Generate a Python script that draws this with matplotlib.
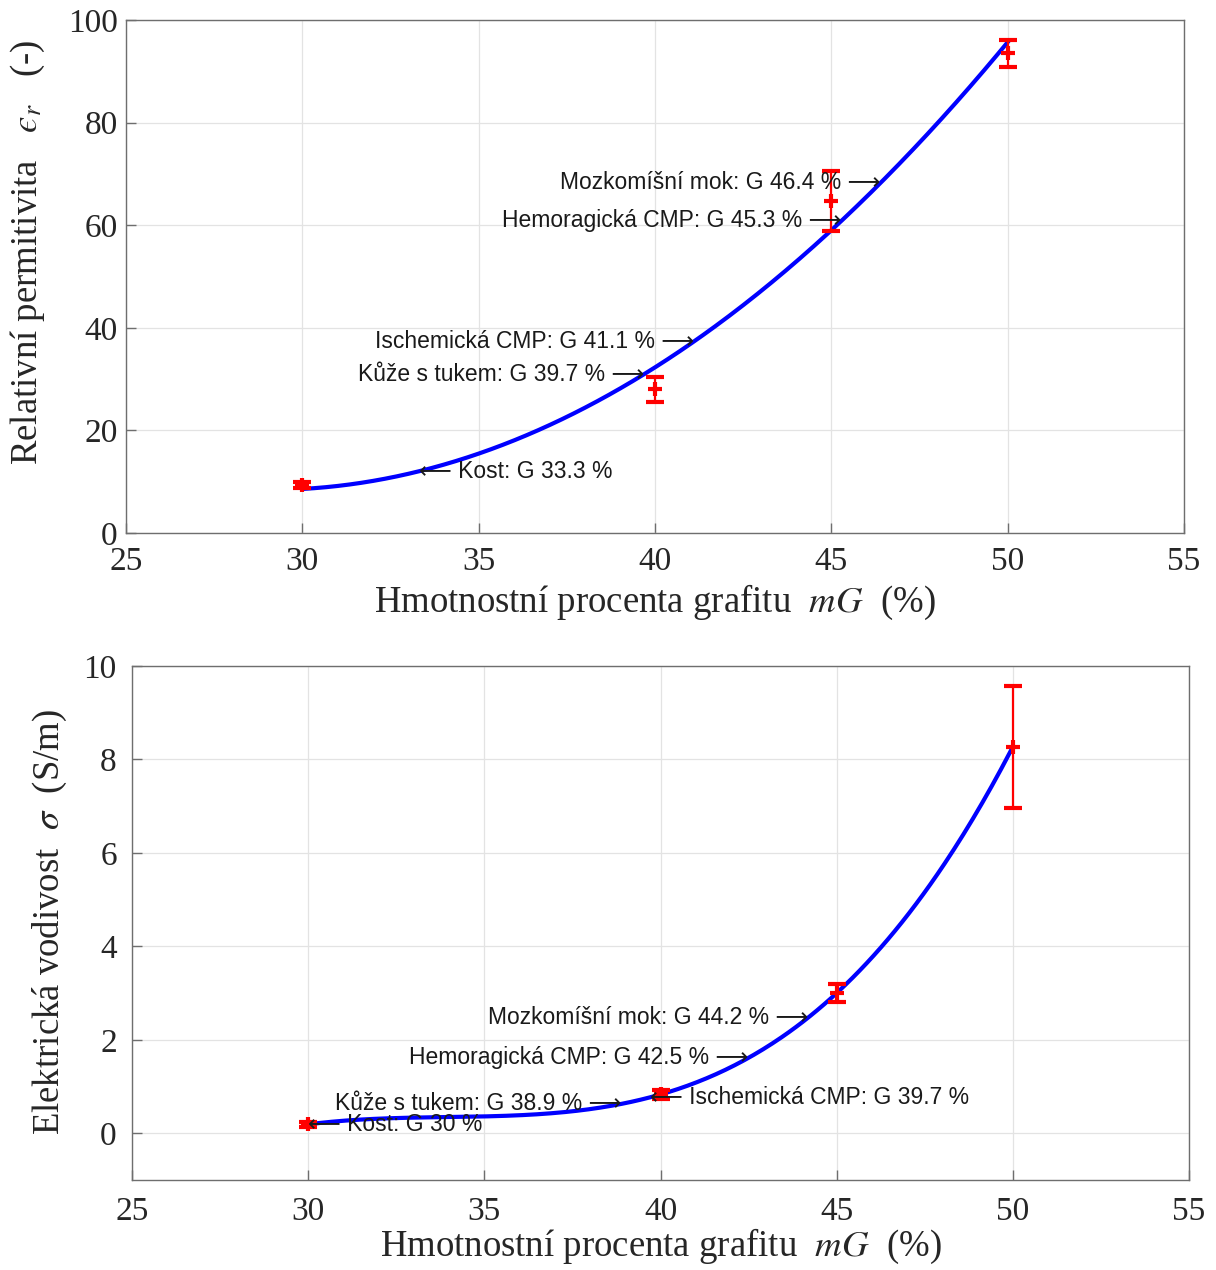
import numpy as np
import matplotlib
matplotlib.use("Agg")
import matplotlib.pyplot as plt

plt.rcParams["font.family"] = ["Liberation Serif", "DejaVu Serif"]
plt.rcParams["mathtext.fontset"] = "stix"

# Measured samples (mean and spread) for graphite weight percent
mg = [30, 40, 45, 50]
eps_mean = [9.3, 28.0, 64.7, 93.5]
eps_err = [0.6, 2.4, 5.9, 2.6]
sig_mean = [0.19, 0.83, 3.0, 8.27]
sig_err = [0.05, 0.09, 0.2, 1.3]

# Tissue matches: label text, graphite percent, arrow direction
eps_tissues = [
    ("Kost", 33.3, "left"),
    ("Kůže s tukem", 39.7, "right"),
    ("Ischemická CMP", 41.1, "right"),
    ("Hemoragická CMP", 45.3, "right"),
    ("Mozkomíšní mok", 46.4, "right"),
]
sig_tissues = [
    ("Kost", 30, "left"),
    ("Kůže s tukem", 38.9, "right"),
    ("Ischemická CMP", 39.7, "left"),
    ("Hemoragická CMP", 42.5, "right"),
    ("Mozkomíšní mok", 44.2, "right"),
]

XLABEL = r"Hmotnostní procenta grafitu  $mG$  (%)"
TICK_FS = 24
LABEL_FS = 26.5
NOTE_FS = 16.5
SANS = ["Liberation Sans", "DejaVu Sans"]


def style_axes(ax, ypad, xpad):
    ax.grid(True, color="#e3e3e3", linewidth=0.9)
    ax.set_axisbelow(True)
    for s in ax.spines.values():
        s.set_color("#6e6e6e")
        s.set_linewidth(1.0)
    ax.tick_params(direction="in", length=7, width=1.0, colors="#6e6e6e",
                   labelcolor="#262626", labelsize=TICK_FS, top=False, right=False)
    ax.tick_params(axis="y", pad=ypad)
    ax.tick_params(axis="x", pad=xpad)


def draw_panel(ax, y, err, deg, tissues):
    coef = np.polyfit(mg, y, deg)
    xs = np.linspace(30, 50, 300)
    ax.plot(xs, np.polyval(coef, xs), color="#0000ff", linewidth=3.0, zorder=3)
    ax.errorbar(mg, y, yerr=err, fmt="+", color="red", ecolor="red",
                elinewidth=1.6, capsize=6.5, capthick=1.6, markersize=10,
                markeredgewidth=3, zorder=4)
    for name, g, side in tissues:
        yv = np.polyval(coef, g)
        label = f"{name}: G {g:g} %"
        if side == "left":
            ax.text(g, yv, "\u27f5 " + label, ha="left", va="center",
                    fontsize=NOTE_FS, family=SANS, color="#1a1a1a", zorder=5)
        else:
            ax.text(g, yv, label + " \u27f6", ha="right", va="center",
                    fontsize=NOTE_FS, family=SANS, color="#1a1a1a", zorder=5)


fig = plt.figure(figsize=(12.16, 12.70), dpi=100)

ax1 = fig.add_axes([0.1036, 0.5803, 0.8700, 0.4040])
draw_panel(ax1, eps_mean, eps_err, 2, eps_tissues)
ax1.set_xlim(25, 55)
ax1.set_ylim(0, 100)
ax1.set_xticks(range(25, 56, 5))
ax1.set_yticks(range(0, 101, 20))
style_axes(ax1, 6, 10)
ax1.set_xlabel(XLABEL, fontsize=LABEL_FS, color="#262626", labelpad=4)
fig.text(28 / 1216, 1 - 252 / 1270, "Relativní permitivita   $\u03f5_r$   (-)",
         rotation=90, ha="center", va="center", fontsize=LABEL_FS, color="#262626")

ax2 = fig.add_axes([0.1086, 0.0709, 0.8692, 0.4047])
draw_panel(ax2, sig_mean, sig_err, 3, sig_tissues)
ax2.set_xlim(25, 55)
ax2.set_ylim(-1, 10)
ax2.set_xticks(range(25, 56, 5))
ax2.set_yticks(range(0, 11, 2))
style_axes(ax2, 11, 12)
ax2.set_xlabel(XLABEL, fontsize=LABEL_FS, color="#262626", labelpad=0)
fig.text(50 / 1216, 1 - 922 / 1270, r"Elektrická vodivost  $\sigma$  (S/m)",
         rotation=90, ha="center", va="center", fontsize=LABEL_FS, color="#262626")

fig.savefig("out.png", dpi=100)
